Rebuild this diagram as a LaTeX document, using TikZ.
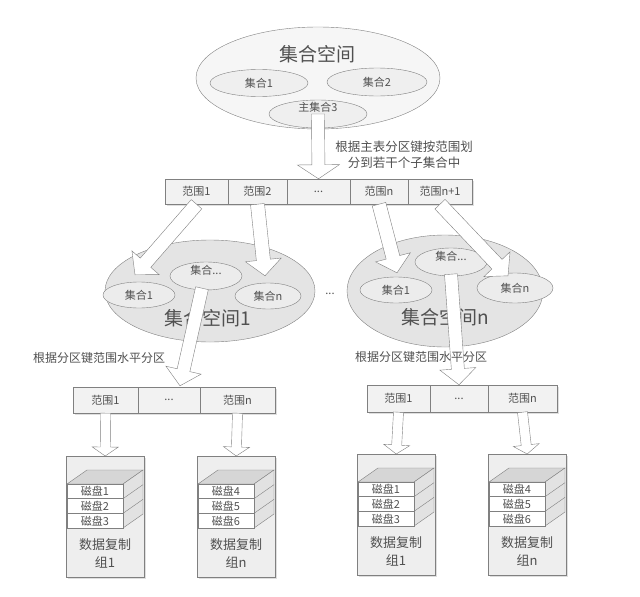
\documentclass[tikz,border=0pt]{standalone}
\usepackage{fontspec}
\setmainfont{Noto Sans CJK SC}
\usetikzlibrary{calc,shapes.geometric,shadows}
\definecolor{lcol}{HTML}{808080}
\definecolor{tcol}{HTML}{505050}
\definecolor{bgE}{HTML}{E4E4E4}
\definecolor{inE}{HTML}{ECECEC}
\definecolor{topE}{HTML}{F6F6F6}
\definecolor{topIn}{HTML}{EFEFEF}
\definecolor{cellc}{HTML}{F2F2F2}
\definecolor{boxc}{HTML}{EEEEEE}
\definecolor{topc}{HTML}{D6D6D6}
\definecolor{sidec}{HTML}{E2E2E2}
\newcommand\fatarrow[5]{%
  \coordinate (fahb) at ($(#2)!#5!(#1)$);
  \draw[arr] ($(#1)!#3!90:(#2)$) -- ($(fahb)!#3!90:(#2)$) -- ($(fahb)!#4!90:(#2)$) -- (#2)
    -- ($(fahb)!#4!-90:(#2)$) -- ($(fahb)!#3!-90:(#2)$) -- ($(#1)!#3!-90:(#2)$) -- cycle;
}
\newcommand\diskgrp[6]{%
  \node[grpbox, anchor=north west] (#1) at (#2) {};
  \begin{scope}[shift={(#1.north west)}]
    \draw[face, fill=topc] (1,28) -- (57,28) -- (77,14) -- (21,14) -- cycle;
    \draw[face, fill=sidec] (57,28) -- (77,14) -- (77,58) -- (57,72) -- cycle;
    \draw[face] (57,42.67) -- (77,28.67) (57,57.33) -- (77,43.33);
    \node[disk] (#1a) at (29,35.33) {磁盘#3};
    \node[disk] (#1b) at (29,50) {磁盘#4};
    \node[disk] (#1c) at (29,64.67) {磁盘#5};
    \node[grptxt] (#1t) at (39,97) {数据复制\\组#6};
  \end{scope}
}
\begin{document}
\begin{tikzpicture}[x=1pt,y=-1pt,
  txt/.style={font=\fontsize{11}{13}\selectfont, text=tcol, inner sep=0},
  bigtxt/.style={font=\fontsize{19}{22}\selectfont, text=tcol, inner sep=0},
  notetxt/.style={font=\fontsize{12.5}{16}\selectfont, text=tcol, inner sep=0, align=center},
  ell/.style={ellipse, draw=lcol, inner sep=0, text=tcol, font=\fontsize{11}{13}\selectfont},
  cell/.style={rectangle, draw=lcol, fill=cellc, inner sep=0, text=tcol,
     font=\fontsize{11}{13}\selectfont,
     drop shadow={opacity=0.25, shadow xshift=1.5pt, shadow yshift=-1.5pt}},
  arr/.style={draw=lcol, fill=white, line join=miter},
  face/.style={draw=lcol},
  disk/.style={rectangle, draw=lcol, fill=white, inner sep=0, minimum width=56,
     minimum height=14.67, text=tcol, font=\fontsize{11}{13}\selectfont},
  grpbox/.style={rectangle, draw=lcol, fill=boxc, inner sep=0, minimum width=78,
     minimum height=121, drop shadow={opacity=0.25, shadow xshift=1.5pt, shadow yshift=-1.5pt}},
  grptxt/.style={font=\fontsize{13}{18}\selectfont, text=tcol, inner sep=0, align=center}
]
\useasboundingbox[fill=white] (0,0) rectangle (640,597);

% top collection space
\node[ell, fill=topE, minimum width=244, minimum height=102] (S) at (318,78) {};
\node[bigtxt] (Stitle) at (317,54) {集合空间};
\node[ell, fill=topIn, minimum width=98, minimum height=27] (c1) at (259,83) {集合1};
\node[ell, fill=topIn, minimum width=100, minimum height=28] (c2) at (377,82) {集合2};
\node[ell, fill=topIn, minimum width=98, minimum height=28] (c3) at (318,114) {};
\node[txt] (c3t) at (318,107) {主集合3};

% top range bar
\node[cell, minimum width=63, minimum height=25] (t1) at (196.5,191.5) {范围1};
\node[cell, minimum width=59, minimum height=25] (t2) at (257.5,191.5) {范围2};
\node[cell, minimum width=63, minimum height=25] (t3) at (318.5,191.5) {...};
\node[cell, minimum width=58, minimum height=25] (t4) at (379,191.5) {范围n};
\node[cell, minimum width=64, minimum height=25] (t5) at (440,191.5) {范围n+1};

\fatarrow{c3.center}{t3.north}{6.5pt}{21pt}{14pt}
\node[notetxt] (note1) at (404,155) {根据主表分区键按范围划\\分到若干个子集合中};

% lower collection spaces
\node[ell, fill=bgE, minimum width=210, minimum height=102] (E1) at (210,291) {};
\node[ell, fill=inE, minimum width=72, minimum height=26] (e11) at (139,295) {集合1};
\node[ell, fill=inE, minimum width=72, minimum height=28] (e1m) at (206,276) {};
\node[txt] (e1mt) at (206,270) {集合...};
\node[ell, fill=inE, minimum width=66, minimum height=26] (e1n) at (268,296) {集合n};
\node[bigtxt] (E1t) at (208,318) {集合空间1};

\node[txt] (dots) at (330,294) {...};

\node[ell, fill=bgE, minimum width=196, minimum height=112] (En) at (445,291) {};
\node[ell, fill=inE, minimum width=72, minimum height=26] (en1) at (396,290) {集合1};
\node[ell, fill=inE, minimum width=72, minimum height=28] (enm) at (451,262) {};
\node[txt] (enmt) at (451,256) {集合...};
\node[ell, fill=inE, minimum width=76, minimum height=30] (enn) at (515,288) {集合n};
\node[bigtxt] (Ent) at (445,317) {集合空间n};

\coordinate (p1) at ($(e11.north)+(-4,-7)$);
\coordinate (p2) at ($(e1n.north)+(-3,-7)$);
\coordinate (p3) at ($(en1.north)+(1,-4)$);
\coordinate (p4) at ($(enn.north)+(-7,3)$);
\fatarrow{t1.south}{p1}{7pt}{18pt}{16pt}
\fatarrow{t2.south}{p2}{7pt}{18pt}{16pt}
\fatarrow{t4.south}{p3}{7pt}{18pt}{16pt}
\fatarrow{t5.south}{p4}{7pt}{18pt}{16pt}

% lower range bars
\node[cell, minimum width=65, minimum height=26] (l1) at (105.5,400) {范围1};
\node[cell, minimum width=62, minimum height=26] (l2) at (169,400) {...};
\node[cell, minimum width=75, minimum height=26] (l3) at (237.5,400) {范围n};
\node[cell, minimum width=63, minimum height=27] (r1) at (398.5,398.5) {范围1};
\node[cell, minimum width=58, minimum height=27] (r2) at (459,398.5) {...};
\node[cell, minimum width=69, minimum height=27] (r3) at (522.5,398.5) {范围n};

\coordinate (q5s) at ($(e1m.south)+(-4,-2)$);
\coordinate (q5) at ($(l2.north)+(11,-1)$);
\coordinate (q6s) at ($(enm.south)+(0,-2)$);
\fatarrow{q5s}{q5}{6.5pt}{18pt}{16pt}
\fatarrow{q6s}{r2.north}{6.5pt}{18pt}{16pt}

\node[notetxt, font=\fontsize{12}{15}\selectfont] (note2) at (99,358) {根据分区键范围水平分区};
\node[notetxt, font=\fontsize{12}{15}\selectfont] (note3) at (421,357) {根据分区键范围水平分区};

% data replication groups
\diskgrp{g1}{66,456}{1}{2}{3}{1}
\diskgrp{g2}{197,456}{4}{5}{6}{n}
\diskgrp{g3}{357,454}{1}{2}{3}{1}
\diskgrp{g4}{488,454}{4}{5}{6}{n}

\fatarrow{l1.south}{g1.north}{5pt}{13pt}{9pt}
\fatarrow{l3.south}{g2.north}{5pt}{13pt}{9pt}
\fatarrow{r1.south}{g3.north}{5pt}{13pt}{9pt}
\fatarrow{r3.south}{g4.north}{5pt}{13pt}{9pt}
\end{tikzpicture}
\end{document}
